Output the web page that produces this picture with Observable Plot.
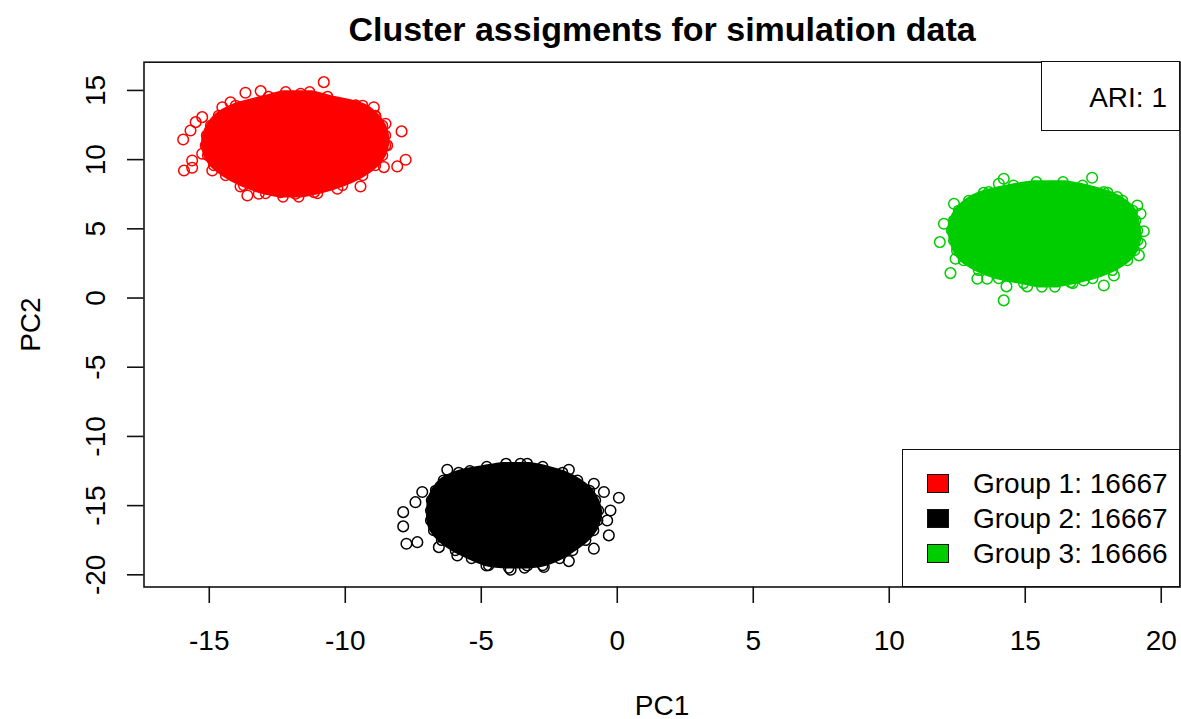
<!DOCTYPE html>
<html><head><meta charset="utf-8">
<script src="https://cdn.jsdelivr.net/npm/d3@7"></script>
<script src="https://cdn.jsdelivr.net/npm/@observablehq/plot@0.6"></script>
<style>
body{margin:0;background:#fff;font-family:"Liberation Sans",Arial,sans-serif;}
#wrap{position:relative;width:1181px;height:719px;overflow:hidden;}
.box{position:absolute;background:#fff;border:1.6px solid #111;box-sizing:border-box;}
.lbl{position:absolute;font-size:28px;line-height:32px;color:#000;white-space:nowrap;}
.sw{position:absolute;width:22.6px;height:19.5px;border:1.4px solid #111;box-sizing:border-box;}
</style></head><body><div id="wrap"></div>
<script>
const title = "Cluster assigments for simulation data";
const xLabel = "PC1", yLabel = "PC2";
const xTicks = [-15, -10, -5, 0, 5, 10, 15, 20];
const yTicks = [-20, -15, -10, -5, 0, 5, 10, 15];
const groupLabels = ["Group 1: 16667", "Group 2: 16667", "Group 3: 16666"];
const groupColors = ["#FF0000", "#000000", "#00CD00"];
const ariLabel = "ARI: 1";

// dense cores: [y, xLeft, xRight]
const redCore = [
  [14.90,-12.30,-11.20],[14.57,-12.93,-10.54],[13.92,-14.14,-9.25],[13.19,-14.77,-8.78],[12.46,-15.06,-8.52],
  [11.75,-15.21,-8.41],[11.03,-15.25,-8.41],[10.30,-15.17,-8.52],[9.58,-14.95,-8.78],
  [8.86,-14.51,-9.25],[8.14,-13.85,-9.99],[7.56,-13.04,-10.91],[7.30,-12.40,-11.60]
];
const blackCore = [
  [-11.95,-4.20,-3.20],[-12.17,-4.91,-2.63],[-12.60,-5.94,-1.90],[-13.17,-6.50,-1.35],[-13.90,-6.79,-0.91],
  [-14.62,-6.94,-0.69],[-15.35,-6.97,-0.58],[-16.07,-6.97,-0.61],[-16.79,-6.86,-0.76],
  [-17.51,-6.57,-1.05],[-18.24,-6.06,-1.53],[-18.82,-5.47,-2.01],[-19.32,-4.84,-2.63],[-19.50,-4.10,-3.30]
];
const greenCore = [
  [8.40,15.30,16.50],[8.14,14.46,17.22],[7.63,13.36,18.14],[7.05,12.81,18.69],[6.33,12.44,19.06],
  [5.61,12.26,19.17],[4.88,12.18,19.24],[4.16,12.26,19.24],[3.44,12.37,19.13],
  [2.72,12.62,18.87],[2.00,13.17,18.32],[1.42,13.91,17.59],[1.06,14.83,16.86],[0.80,15.50,16.20]
];
// outlying points [x, y]
const redPts = [
  [-10.79,15.60],[-13.67,14.83],[-13.11,14.95],[-11.64,14.76],[-15.96,11.46],[-15.69,12.11],
  [-15.50,12.71],[-15.26,13.07],[-15.93,9.22],[-15.63,9.94],[-15.63,9.41],[-7.93,12.04],
  [-7.78,9.99],[-8.09,9.51],[-8.58,9.46],[-8.52,12.59],[-8.95,13.79],[-8.89,13.12],
  [-9.62,13.92],[-13.60,7.41],[-13.18,7.54],[-11.83,7.54],[-9.44,8.06],[-10.29,7.90],
  [-13.85,8.06],[-14.52,13.79],[-14.22,14.15],[-12.38,7.65],[-11.15,7.65],[-8.46,11.03],
  [-15.26,10.43],[-14.89,9.22]
];
const blackPts = [
  [-6.25,-12.41],[-5.42,-12.51],[-1.78,-12.41],[-7.17,-14.02],[-7.42,-14.75],[-7.87,-15.47],
  [-7.87,-16.50],[-7.75,-17.75],[-7.35,-17.64],[0.06,-14.43],[-0.25,-15.35],[-0.37,-16.07],
  [-0.31,-17.15],[-0.86,-18.11],[-1.78,-19.01],[-2.70,-19.44],[-3.92,-19.63],[-4.81,-19.32],
  [-3.31,-19.32],[-0.49,-14.02],[-3.56,-11.97],[-0.86,-13.42],[-6.56,-18.00],[-5.88,-18.60]
];
const greenPts = [
  [17.46,8.69],[14.21,8.62],[14.03,8.26],[12.38,6.81],[12.68,6.21],[12.01,5.37],
  [11.86,4.04],[12.25,1.80],[12.44,2.84],[14.21,-0.17],[14.31,0.84],[15.07,0.84],
  [16.67,1.15],[17.89,0.91],[18.26,1.63],[19.12,6.69],[19.36,4.83],[19.18,3.08],
  [18.38,7.29],[17.89,7.65],[19.24,6.09],[13.24,1.39],[13.60,1.39],[13.66,7.65],
  [19.24,3.92],[17.15,1.27]
];

const cores = [redCore, blackCore, greenCore];
const pts = [redPts, blackPts, greenPts];

const marks = [];
cores.forEach((c, i) => {
  marks.push(Plot.areaX(c, {y: d => d[0], x1: d => d[1], x2: d => d[2], fill: groupColors[i],
    stroke: groupColors[i], strokeWidth: 2, curve: "catmull-rom"}));
  // circles along the ragged edge of each core
  marks.push(Plot.dot(c, {x: d => d[1], y: d => d[0], dx: 3, r: 5, stroke: groupColors[i], strokeWidth: 1.5, fill: "none"}));
  marks.push(Plot.dot(c, {x: d => d[2], y: d => d[0], dx: -3, r: 5, stroke: groupColors[i], strokeWidth: 1.5, fill: "none"}));
});
pts.forEach((p, i) => {
  marks.push(Plot.dot(p, {x: d => d[0], y: d => d[1], r: 5.3, stroke: groupColors[i], strokeWidth: 1.5, fill: "none"}));
});

const chart = Plot.plot({
  width: 1181, height: 719,
  marginLeft: 143.5, marginRight: 1.5, marginTop: 61.7, marginBottom: 132.5,
  style: {fontFamily: '"Liberation Sans", Arial, sans-serif', background: "#fff", color: "#000"},
  x: {domain: [-17.40, 20.69]},
  y: {domain: [-20.88, 17.04]},
  marks: [
    ...marks,
    Plot.frame({stroke: "#111", strokeWidth: 1.6}),
    Plot.axisX(xTicks, {tickSize: 16.5, tickFormat: () => "", stroke: "#111", strokeWidth: 1.6, label: null}),
    Plot.axisY(yTicks, {tickSize: 16.5, tickFormat: () => "", stroke: "#111", strokeWidth: 1.6, label: null}),
    Plot.text(xTicks, {x: d => d, text: d => String(d), frameAnchor: "bottom", dy: 62.5, lineAnchor: "bottom", fontSize: 28, fill: "#000"}),
    Plot.text(yTicks, {y: d => d, text: d => String(d), frameAnchor: "left", dx: -39.5, rotate: -90, lineAnchor: "bottom", textAnchor: "middle", fontSize: 28, fill: "#000"}),
    Plot.text([xLabel], {text: d => d, frameAnchor: "bottom", dy: 127.5, lineAnchor: "bottom", fontSize: 28, fill: "#000"}),
    Plot.text([yLabel], {text: d => d, frameAnchor: "left", dx: -104.5, rotate: -90, lineAnchor: "bottom", textAnchor: "middle", fontSize: 28, fill: "#000"}),
    Plot.text([title], {text: d => d, frameAnchor: "top", dy: -21, lineAnchor: "bottom", fontSize: 34, fontWeight: "bold", fill: "#000"})
  ]
});
const wrap = document.getElementById("wrap");
wrap.appendChild(chart);

// ARI box
const ari = document.createElement("div");
ari.className = "box";
Object.assign(ari.style, {left: "1041px", top: "61px", width: "139.3px", height: "69.8px"});
wrap.appendChild(ari);
const ariT = document.createElement("div");
ariT.className = "lbl";
ariT.textContent = ariLabel;
Object.assign(ariT.style, {right: (1181 - 1167) + "px", top: "81.6px"});
wrap.appendChild(ariT);

// legend box
const leg = document.createElement("div");
leg.className = "box";
Object.assign(leg.style, {left: "902px", top: "449.3px", width: "278.3px", height: "138px"});
wrap.appendChild(leg);
const baselines = [493.5, 528.5, 563.5];
groupLabels.forEach((g, i) => {
  const sw = document.createElement("div");
  sw.className = "sw";
  Object.assign(sw.style, {left: "926.7px", top: (baselines[i] - 20) + "px", background: groupColors[i]});
  wrap.appendChild(sw);
  const t = document.createElement("div");
  t.className = "lbl";
  t.textContent = g;
  Object.assign(t.style, {left: "973px", top: (baselines[i] - 25.7) + "px"});
  wrap.appendChild(t);
});
</script></body></html>
